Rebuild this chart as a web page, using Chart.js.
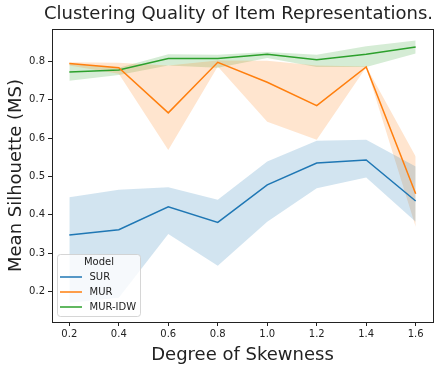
<!DOCTYPE html>
<html>
<head>
<meta charset="utf-8">
<script src="https://cdn.jsdelivr.net/npm/chart.js@4"></script>
<style>
  body { margin: 0; background: #fff; }
  canvas { display: block; }
</style>
</head>
<body>
<canvas id="chart" width="444" height="368"></canvas>
<script>
const skewness = [0.2, 0.4, 0.6, 0.8, 1.0, 1.2, 1.4, 1.6];

const surMean = [0.347, 0.361, 0.421, 0.380, 0.478, 0.535, 0.543, 0.436];
const surUpper = [0.446, 0.465, 0.472, 0.439, 0.539, 0.593, 0.596, 0.526];
const surLower = [0.170, 0.183, 0.350, 0.267, 0.382, 0.469, 0.497, 0.382];

const murMean = [0.795, 0.784, 0.666, 0.798, 0.746, 0.685, 0.786, 0.455];
const murUpper = [0.798, 0.797, 0.790, 0.803, 0.802, 0.790, 0.787, 0.552];
const murLower = [0.790, 0.768, 0.569, 0.787, 0.643, 0.596, 0.785, 0.369];

const idwMean = [0.773, 0.778, 0.808, 0.808, 0.819, 0.805, 0.819, 0.838];
const idwUpper = [0.795, 0.784, 0.819, 0.818, 0.825, 0.818, 0.840, 0.855];
const idwLower = [0.750, 0.765, 0.790, 0.784, 0.809, 0.786, 0.786, 0.821];

const xTicks = [0.2, 0.4, 0.6, 0.8, 1.0, 1.2, 1.4, 1.6];
const yTicks = [0.2, 0.3, 0.4, 0.5, 0.6, 0.7, 0.8];

const models = ["SUR", "MUR", "MUR-IDW"];
const colors = ["#1f77b4", "#ff7f0e", "#2ca02c"];
const bandColors = ["rgba(31,119,180,0.2)", "rgba(255,127,14,0.2)", "rgba(44,160,44,0.2)"];

const font = "DejaVu Sans";
const ink = "#222";

const pts = (ys) => ys.map((y, i) => ({ x: skewness[i], y: y }));

function band(upper, lower, i) {
  return [
    { data: pts(upper), borderWidth: 0, pointRadius: 0, fill: "+1", backgroundColor: bandColors[i], order: 10 },
    { data: pts(lower), borderWidth: 0, pointRadius: 0, fill: false, order: 10 },
  ];
}

function line(mean, i) {
  return { label: models[i], data: pts(mean), borderColor: colors[i], borderWidth: 1.5, pointRadius: 0, fill: false, order: 1 };
}

const datasets = [
  ...band(surUpper, surLower, 0),
  ...band(murUpper, murLower, 1),
  ...band(idwUpper, idwLower, 2),
  line(surMean, 0),
  line(murMean, 1),
  line(idwMean, 2),
];

// closes the frame on top and right, like matplotlib spines
const framePlugin = {
  id: "frame",
  afterDraw(chart) {
    const { ctx, chartArea: a } = chart;
    ctx.save();
    ctx.strokeStyle = ink;
    ctx.lineWidth = 1;
    ctx.strokeRect(Math.round(a.left) + 0.5, Math.round(a.top) + 0.5, Math.round(a.right - a.left), Math.round(a.bottom - a.top));
    ctx.restore();
  },
};

// legend box inside the plot, bottom left, with a title
const legendPlugin = {
  id: "boxLegend",
  afterDraw(chart) {
    const ctx = chart.ctx;
    const x0 = 57.5, y0 = 254.5, w = 83, h = 62;
    ctx.save();
    ctx.beginPath();
    ctx.roundRect(x0, y0, w, h, 3);
    ctx.fillStyle = "rgba(255,255,255,0.8)";
    ctx.fill();
    ctx.strokeStyle = "rgba(204,204,204,0.8)";
    ctx.lineWidth = 1;
    ctx.stroke();

    ctx.font = "10px '" + font + "'";
    ctx.fillStyle = ink;
    ctx.textBaseline = "middle";
    ctx.textAlign = "center";
    ctx.fillText("Model", x0 + w / 2, 262.5);

    ctx.textAlign = "left";
    models.forEach((m, i) => {
      const y = 277 + i * 15;
      ctx.beginPath();
      ctx.moveTo(60, y);
      ctx.lineTo(82, y);
      ctx.strokeStyle = colors[i];
      ctx.lineWidth = 1.5;
      ctx.stroke();
      ctx.fillText(m, 89.5, y);
    });
    ctx.restore();
  },
};

const tickFont = { family: font, size: 10 };

new Chart(document.getElementById("chart"), {
  type: "line",
  data: { datasets: datasets },
  options: {
    responsive: false,
    animation: false,
    devicePixelRatio: 1,
    layout: { padding: { left: 0, right: 11, top: 0, bottom: 0 } },
    elements: { line: { tension: 0 } },
    plugins: {
      legend: { display: false },
      tooltip: { enabled: false },
      title: {
        display: true,
        text: "Clustering Quality of Item Representations.",
        color: ink,
        align: "end",
        font: { family: font, size: 18, weight: "normal" },
        padding: { top: 4, bottom: 3.4 },
      },
    },
    scales: {
      x: {
        type: "linear",
        min: 0.13,
        max: 1.67,
        afterBuildTicks: (s) => { s.ticks = xTicks.map((v) => ({ value: v })); },
        afterFit: (s) => { s.height = 46; },
        grid: { drawOnChartArea: false, drawTicks: true, tickLength: 4, color: ink },
        border: { display: true, color: ink, width: 1 },
        ticks: { font: tickFont, color: ink, padding: 2, maxRotation: 0, callback: (v) => v.toFixed(1) },
        title: { display: true, text: "Degree of Skewness", color: ink, font: { family: font, size: 18 }, padding: { top: 0, bottom: 2 } },
      },
      y: {
        type: "linear",
        min: 0.12,
        max: 0.885,
        afterBuildTicks: (s) => { s.ticks = yTicks.map((v) => ({ value: v })); },
        afterFit: (s) => { s.width = 52; },
        grid: { drawOnChartArea: false, drawTicks: true, tickLength: 4, color: ink },
        border: { display: true, color: ink, width: 1 },
        ticks: { font: tickFont, color: ink, padding: 3, callback: (v) => v.toFixed(1) },
        title: { display: true, text: "Mean Silhouette (MS)", color: ink, font: { family: font, size: 18 }, padding: { top: 6, bottom: 0 } },
      },
    },
  },
  plugins: [framePlugin, legendPlugin],
});
</script>
</body>
</html>
